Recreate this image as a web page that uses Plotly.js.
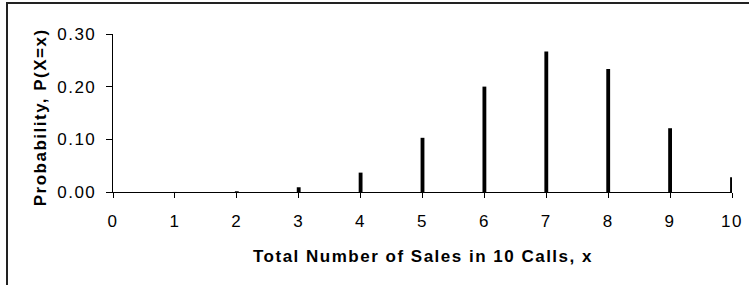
<!DOCTYPE html>
<html>
<head>
<meta charset="utf-8">
<script src="https://cdn.plot.ly/plotly-3.0.1.min.js"></script>
<style>
  html, body { margin: 0; padding: 0; background: #fff; }
  #wrap { position: absolute; left: 0; top: 0; width: 749px; height: 285px; overflow: hidden; }
  #frame { position: absolute; left: 6px; top: 2px; width: 760px; height: 300px;
           border-left: 2px solid #222; border-top: 2px solid #222; pointer-events: none; }
  #chart { position: absolute; left: 0; top: 0; width: 749px; height: 285px; }
  #chart svg text { letter-spacing: 1.5px; }
</style>
</head>
<body>
<div id="wrap">
  <div id="chart"></div>
  <div id="frame"></div>
</div>
<script>
const sales = [0, 1, 2, 3, 4, 5, 6, 7, 8, 9, 10];
const probability = [0.0000, 0.0001, 0.0014, 0.0090, 0.0368, 0.1029, 0.2001, 0.2668, 0.2335, 0.1211, 0.0282];
const yTicks = [0, 0.10, 0.20, 0.30];
const yTickText = ['0.00', '0.10', '0.20', '0.30'];
const xTitle = 'Total Number of Sales in 10 Calls, x';
const yTitle = 'Probability, P(X=x)';

const font = { family: 'Liberation Sans, Arial, sans-serif', size: 17, color: '#000' };

const trace = {
  type: 'bar',
  x: sales,
  y: probability,
  width: 0.062,
  marker: { color: '#000', line: { width: 0 } },
  hoverinfo: 'none'
};

const layout = {
  width: 749,
  height: 285,
  margin: { l: 113, r: 17, t: 34, b: 93 },
  paper_bgcolor: '#fff',
  plot_bgcolor: '#fff',
  showlegend: false,
  font: font,
  xaxis: {
    range: [0, 10],
    tickvals: sales,
    ticktext: sales.map(String),
    showgrid: false,
    zeroline: false,
    showline: true,
    linecolor: '#000',
    linewidth: 1.3,
    ticks: 'outside',
    ticklen: 5,
    tickcolor: '#000',
    tickwidth: 1,
    ticklabelstandoff: 8,
    tickfont: font,
    fixedrange: true
  },
  yaxis: {
    range: [0, 0.30],
    tickvals: yTicks,
    ticktext: yTickText,
    showgrid: false,
    zeroline: false,
    showline: true,
    linecolor: '#000',
    linewidth: 1.3,
    ticks: 'outside',
    ticklen: 6,
    tickcolor: '#000',
    tickwidth: 1,
    ticklabelstandoff: 6,
    tickfont: font,
    fixedrange: true
  },
  annotations: [
    {
      text: '<b>' + xTitle + '</b>',
      xref: 'paper', yref: 'paper',
      x: 0.5, y: -(256 - 192) / 158,
      xanchor: 'center', yanchor: 'middle',
      showarrow: false,
      font: { family: font.family, size: 17, color: '#000' }
    },
    {
      text: '<b>' + yTitle + '</b>',
      xref: 'paper', yref: 'paper',
      x: -(113 - 41) / 619, y: (192 - 118) / 158,
      xanchor: 'center', yanchor: 'middle',
      textangle: -90,
      showarrow: false,
      font: { family: font.family, size: 17, color: '#000' }
    }
  ]
};

Plotly.newPlot('chart', [trace], layout, { displayModeBar: false, staticPlot: true });
</script>
</body>
</html>
